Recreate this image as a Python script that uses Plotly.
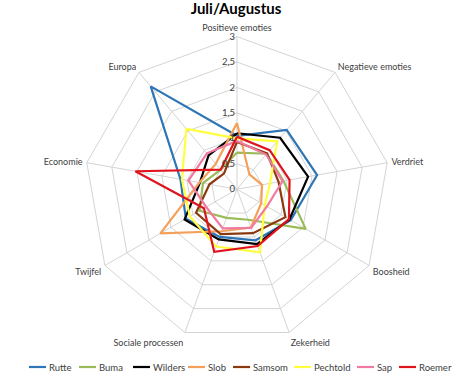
import plotly.graph_objects as go

categories = ["Positieve emoties", "Negatieve emoties", "Verdriet", "Boosheid",
              "Zekerheid", "Sociale processen", "Twijfel", "Economie", "Europa"]

rutte    = [1.05, 1.52, 1.60, 1.22, 1.07, 1.00, 1.16, 1.13, 2.64]
buma     = [0.72, 0.91, 0.93, 1.56, 0.64, 0.60, 0.85, 0.68, 0.50]
wilders  = [1.10, 1.32, 1.42, 1.19, 1.15, 1.05, 1.19, 0.74, 0.87]
slob     = [1.30, 0.38, 0.50, 0.55, 0.80, 0.88, 1.74, 0.75, 0.65]
samsom   = [0.93, 0.92, 0.83, 1.10, 0.92, 0.94, 0.93, 0.55, 0.40]
pechtold = [1.00, 1.23, 0.66, 0.63, 1.32, 1.20, 1.07, 1.10, 1.55]
sap      = [0.95, 0.89, 0.91, 0.68, 0.81, 0.82, 0.70, 0.97, 0.92]
roemer   = [1.03, 1.00, 1.05, 1.18, 1.19, 1.31, 0.75, 2.03, 0.50]

series_names = ["Rutte", "Buma", "Wilders", "Slob", "Samsom", "Pechtold", "Sap", "Roemer"]
series_values = [rutte, buma, wilders, slob, samsom, pechtold, sap, roemer]
colors = ["#2e75b6", "#9bbb59", "#000000", "#f4a05a", "#8b3a10", "#ffff40", "#f07aa0", "#e0141e"]

tick_vals = [0, 0.5, 1, 1.5, 2, 2.5, 3]
tick_text = ["0", "0,5", "1", "1,5", "2", "2,5", "3"]

# custom legend layout (pixel x of each entry's line start)
legend_x_px = [29, 79, 133, 188, 233, 294, 357, 399]
legend_y_px = 367
W, H = 472, 378

fig = go.Figure()
for name, vals, col in zip(series_names, series_values, colors):
    fig.add_trace(go.Scatterpolar(
        r=vals + vals[:1],
        theta=categories + categories[:1],
        mode="lines",
        name=name,
        showlegend=False,
        line=dict(color=col, width=2.2),
    ))

shapes = []
annotations = []
for name, col, xp in zip(series_names, colors, legend_x_px):
    yp = 1 - legend_y_px / H
    shapes.append(dict(type="line", xref="paper", yref="paper",
                       x0=xp / W, x1=(xp + 17) / W, y0=yp, y1=yp,
                       line=dict(color=col, width=2.2)))
    annotations.append(dict(text=name, xref="paper", yref="paper",
                            x=(xp + 18) / W, y=yp, xanchor="left", yanchor="middle",
                            showarrow=False, font=dict(size=9.5, color="#404040")))

fig.update_layout(
    width=W, height=H,
    margin=dict(l=0, r=0, t=0, b=0),
    paper_bgcolor="white",
    separators=",.",
    showlegend=False,
    font=dict(family="Lato, Open Sans, sans-serif", size=9, color="#404040"),
    title=dict(text="<b>Juli/Augustus</b>", x=0.5, xanchor="center", y=0.976, yanchor="middle",
               font=dict(size=15, color="#000000")),
    shapes=shapes,
    annotations=annotations,
    polar=dict(
        domain=dict(x=[0.1786, 0.8256], y=[0.096, 0.903]),
        bgcolor="white",
        gridshape="linear",
        radialaxis=dict(
            range=[0, 3], tickvals=tick_vals, ticktext=tick_text,
            angle=90, tickangle=90, side="counterclockwise",
            showline=False, ticks="", gridcolor="#d4d4d4", gridwidth=1,
            tickfont=dict(size=9.5, color="#404040"),
        ),
        angularaxis=dict(
            direction="clockwise", rotation=90,
            categoryorder="array", categoryarray=categories,
            linecolor="#d4d4d4", linewidth=1, gridcolor="#d4d4d4", gridwidth=1,
            ticks="outside", ticklen=2, tickcolor="rgba(0,0,0,0)",
            tickfont=dict(size=9, color="#404040"),
        ),
    ),
)

fig.write_html("out.html", config={"displayModeBar": False},
               post_script="document.body.style.margin='0';")
